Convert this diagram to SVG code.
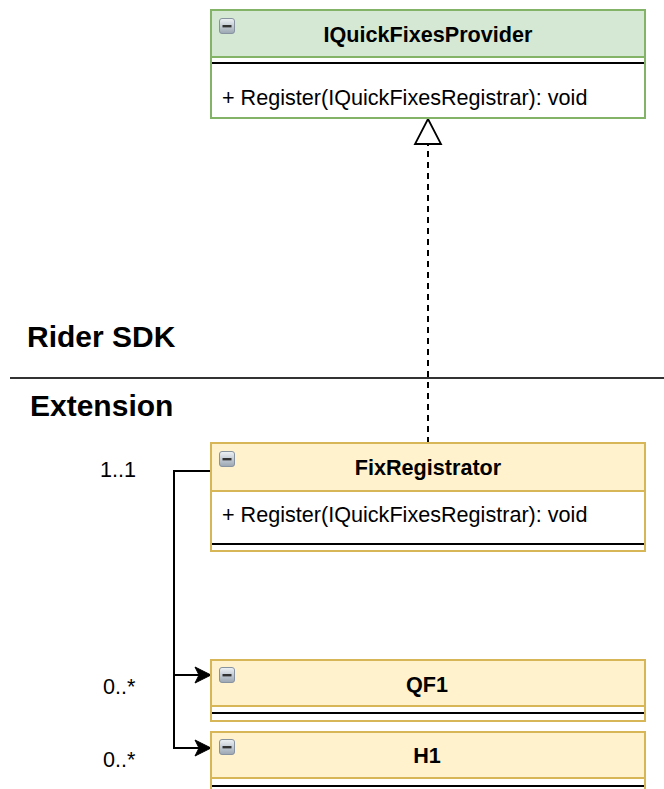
<svg xmlns="http://www.w3.org/2000/svg" width="664" height="789" viewBox="0 0 664 789">
<defs>
<style>
.t{font-family:"Liberation Sans",Arial,sans-serif;fill:#000}
.title{font-size:21.6px;font-weight:bold;text-anchor:middle}
.m{font-size:21.6px}
.big{font-size:30px;font-weight:bold}
.g{fill:#d5e8d4;stroke:#82b366;stroke-width:2}
.y{fill:#fff2cc;stroke:#d6b656;stroke-width:2}
.body{fill:#ffffff}
.sep{stroke:#000;stroke-width:2}
.edge{fill:none;stroke:#000;stroke-width:2}
</style>
<linearGradient id="ig" x1="0" y1="0" x2="0" y2="1">
<stop offset="0" stop-color="#eef2f6"/>
<stop offset="1" stop-color="#9aa6b2"/>
</linearGradient>
<g id="icon">
<rect x="0.5" y="0.5" width="15" height="15" rx="2.5" fill="url(#ig)" stroke="#8893a0" stroke-width="1"/>
<rect x="3.5" y="7" width="9" height="2.4" fill="#333"/>
</g>
<marker id="arr" markerWidth="18" markerHeight="18" viewBox="0 0 18 18" refX="17" refY="9" orient="auto" markerUnits="userSpaceOnUse">
<path d="M1,1 L17,9 L1,17 L5,9 Z" fill="#000" stroke="#000" stroke-width="1"/>
</marker>
</defs>
<rect width="664" height="789" fill="#fff"/>

<g id="sections">
<text class="t big" x="27" y="347">Rider SDK</text>
<line x1="10" y1="378" x2="664" y2="378" stroke="#333" stroke-width="2"/>
<text class="t big" x="30" y="416">Extension</text>
</g>

<g id="connectors">
<line x1="428" y1="443" x2="428" y2="144" stroke="#000" stroke-width="2" stroke-dasharray="6 5"/>
<path d="M428,119 L441,144 L415,144 Z" fill="#fff" stroke="#000" stroke-width="1.8"/>
<path class="edge" d="M211,471 L174,471 L174,675 L211,675" marker-end="url(#arr)"/>
<path class="edge" d="M174,675 L174,748 L211,748" marker-end="url(#arr)"/>
<text class="t m" x="100" y="477">1..1</text>
<text class="t m" x="103" y="694">0..*</text>
<text class="t m" x="103" y="767">0..*</text>
</g>

<g id="IQuickFixesProvider">
<rect class="g" x="211" y="10" width="434" height="108"/>
<rect class="body" x="212" y="58" width="432" height="59"/>
<line x1="211" y1="57" x2="645" y2="57" stroke="#82b366" stroke-width="2"/>
<line class="sep" x1="212" y1="63" x2="644" y2="63"/>
<use href="#icon" x="219" y="18"/>
<text class="t title" x="428" y="42">IQuickFixesProvider</text>
<text class="t m" x="222" y="105">+ Register(IQuickFixesRegistrar): void</text>
</g>

<g id="FixRegistrator">
<rect class="y" x="211" y="443" width="434" height="108"/>
<rect class="body" x="212" y="491" width="432" height="59"/>
<line x1="211" y1="491" x2="645" y2="491" stroke="#d6b656" stroke-width="2"/>
<line class="sep" x1="212" y1="544" x2="644" y2="544"/>
<use href="#icon" x="219" y="451"/>
<text class="t title" x="428" y="475">FixRegistrator</text>
<text class="t m" x="222" y="522">+ Register(IQuickFixesRegistrar): void</text>
</g>

<g id="QF1">
<rect class="y" x="211" y="660" width="434" height="61"/>
<rect class="body" x="212" y="707" width="432" height="13"/>
<line x1="211" y1="706" x2="645" y2="706" stroke="#d6b656" stroke-width="2"/>
<line class="sep" x1="212" y1="713" x2="644" y2="713"/>
<use href="#icon" x="219" y="667"/>
<text class="t title" x="427" y="692">QF1</text>
</g>

<g id="H1">
<rect class="y" x="211" y="732" width="434" height="70"/>
<rect class="body" x="212" y="779" width="432" height="12"/>
<line x1="211" y1="778" x2="645" y2="778" stroke="#d6b656" stroke-width="2"/>
<line class="sep" x1="212" y1="786" x2="644" y2="786"/>
<use href="#icon" x="219" y="739"/>
<text class="t title" x="427" y="763">H1</text>
</g>
</svg>
